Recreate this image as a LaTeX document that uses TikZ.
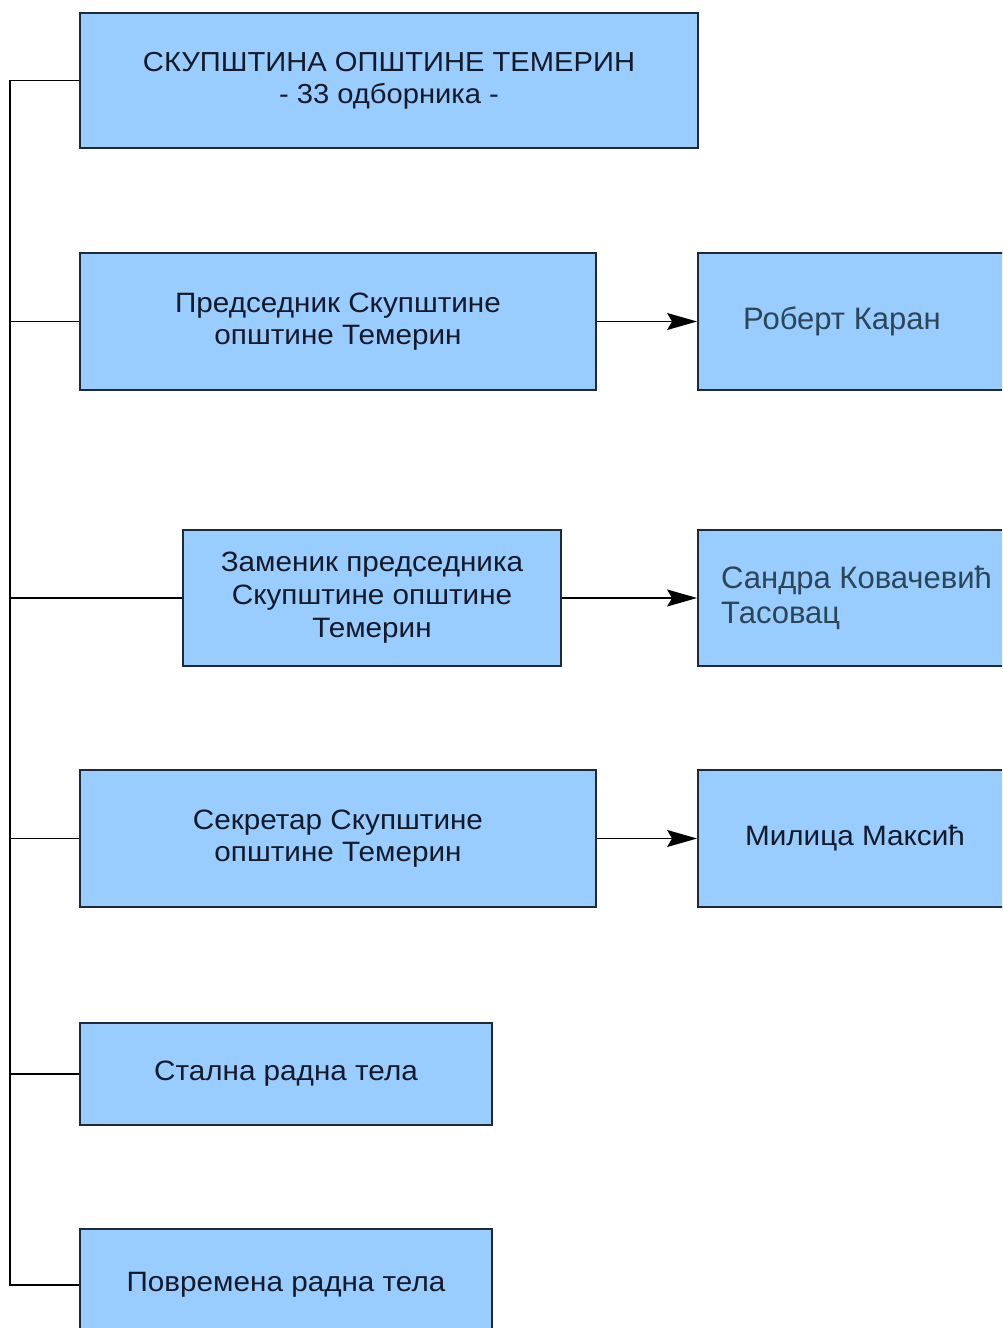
\documentclass[tikz,border=0pt]{standalone}
\usepackage{fontspec}
\setmainfont{Liberation Sans}[FakeStretch=1.06]
\newfontfamily\plainfont{Liberation Sans}
\usetikzlibrary{arrows.meta}
\definecolor{boxfill}{HTML}{99CCFF}
\definecolor{boxline}{HTML}{1E2A38}
\definecolor{lefttext}{HTML}{151A2A}
\definecolor{righttext}{HTML}{2C4658}
\tikzset{
  orgbox/.style={draw=boxline, line width=1.8pt, fill=boxfill, rectangle, inner sep=0pt,
    align=center, text=lefttext, font=\fontsize{28}{32}\selectfont},
  namebox/.style={orgbox, text=righttext, font=\plainfont\fontsize{31}{35}\selectfont},
  nametext/.style={text=righttext, font=\plainfont\fontsize{31}{35}\selectfont, inner sep=0pt},
  link/.style={draw=black, line width=1.6pt},
  arr/.style={link, -{Stealth[length=30pt, width=17pt, inset=5pt]}}
}
\begin{document}
\begin{tikzpicture}[x=1pt, y=-1pt]
\useasboundingbox (0,0) rectangle (1002,1328);
\begin{scope}
\clip (0,0) rectangle (1002,1328);
\node[orgbox, minimum width=618pt, minimum height=135pt, font=\fontsize{27.5}{32}\selectfont] (top) at (389,80.5)
  {СКУПШТИНА ОПШТИНЕ ТЕМЕРИН\\- 33 одборника -};
\node[orgbox, minimum width=516pt, minimum height=137pt] (b2) at (338,321.5)
  {Председник Скупштине\\општине Темерин};
\node[orgbox, minimum width=378pt, minimum height=136pt, font=\fontsize{28}{33}\selectfont] (b3) at (372,598)
  {Заменик председника\\Скупштине општине\\Темерин};
\node[orgbox, minimum width=516pt, minimum height=137pt] (b4) at (338,838.5)
  {Секретар Скупштине\\општине Темерин};
\node[orgbox, minimum width=412pt, minimum height=102pt] (b5) at (286,1074)
  {Стална радна тела};
\node[orgbox, minimum width=412pt, minimum height=112pt] (b6) at (286,1285)
  {Повремена радна тела};
\node[namebox, minimum width=314pt, minimum height=137pt] (r1) at (855,321.5) {};
\node[nametext, anchor=west] (t1) at (743,321.5) {Роберт Каран};
\node[namebox, minimum width=314pt, minimum height=136pt] (r2) at (855,598) {};
\node[nametext, anchor=west, align=left] (t2) at (721,598) {Сандра Ковачевић\\Тасовац};
\node[namebox, minimum width=314pt, minimum height=137pt, text=lefttext, font=\fontsize{28}{32}\selectfont] (r3) at (855,838.5) {Милица Максић};
\end{scope}
\coordinate (sp) at (10,0);
\draw[link] (top.west) -- (top.west -| sp) -- (b6.west -| sp) -- (b6.west);
\draw[link] (b2.west) -- (b2.west -| sp);
\draw[link] (b3.west) -- (b3.west -| sp);
\draw[link] (b4.west) -- (b4.west -| sp);
\draw[link] (b5.west) -- (b5.west -| sp);
\draw[arr] (b2.east) -- (r1.west);
\draw[arr] (b3.east) -- (r2.west);
\draw[arr] (b4.east) -- (r3.west);
\end{tikzpicture}
\end{document}
